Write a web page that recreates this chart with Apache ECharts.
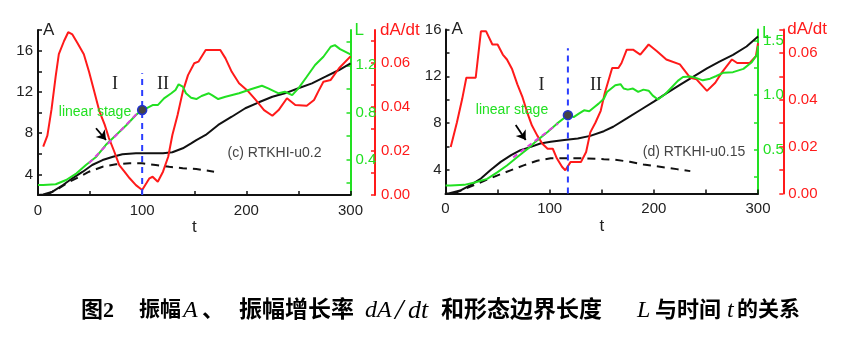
<!DOCTYPE html>
<html><head><meta charset="utf-8">
<script src="https://cdn.jsdelivr.net/npm/echarts@6/dist/echarts.min.js"></script>
<style>html,body{margin:0;padding:0;background:#fff}#c{width:842px;height:338px}</style>
</head><body><div id="c"></div>
<script>
// ---------- data: panel (c) RTKHI-u0.2 ----------
const c_A_t = [0,5,14,24,33,43,52,62,72,81,94,107,120,129,139,147,152,161,173,186,199,212,225,237,250,263,276,289,300];
const c_A_v = [2.0,2.05,2.32,2.97,3.62,4.26,4.91,5.39,5.71,5.95,6.04,6.04,6.04,6.14,6.53,7.01,7.33,7.82,8.79,9.59,10.41,10.99,11.53,11.86,12.35,12.83,13.47,14.12,14.77];
const c_Alin_t = [8,11,20,30,40,49,62,75,88,100,113,126,139,152,169];
const c_Alin_v = [2.0,2.16,2.65,3.29,3.77,4.26,4.74,4.98,5.07,5.07,4.91,4.74,4.59,4.52,4.26];
const c_dA_t = [5,9,13,17,20,25,29,33,38,44,49,54,59,64,68,73,78,83,88,94,100,104,107,110,115,120,125,129,134,139,144,150,154,161,175,180,186,193,202,209,217,225,231,239,247,258,265,269,274,281,289,300];
const c_dA_v = [0.022,0.027,0.039,0.054,0.064,0.070,0.074,0.073,0.069,0.064,0.056,0.047,0.038,0.032,0.026,0.020,0.0136,0.0106,0.0076,0.0045,0.0023,0.0053,0.0076,0.0083,0.0060,0.0106,0.0174,0.0273,0.0364,0.0470,0.0545,0.0599,0.0606,0.0659,0.0659,0.0621,0.0560,0.0508,0.0470,0.0432,0.0386,0.0360,0.0386,0.0440,0.0409,0.0406,0.0432,0.0470,0.0515,0.0523,0.0576,0.0630];
const c_L_t = [0,5,17,27,37,46,56,65,75,85,94,100,105,110,115,121,128,132,135,139,142,147,152,157,164,167,173,180,193,205,215,221,231,237,244,250,258,266,274,281,285,290,300];
const c_L_v = [0.185,0.185,0.191,0.227,0.284,0.354,0.425,0.524,0.609,0.694,0.779,0.821,0.840,0.863,0.863,0.920,0.963,0.991,1.039,1.019,0.963,0.925,0.914,0.940,0.963,0.948,0.914,0.934,0.963,0.999,1.027,1.005,0.963,0.976,0.948,1.005,1.103,1.203,1.273,1.358,1.372,1.338,1.293];
const c_fit_t = [49,95];
const c_fit_v = [0.37,0.79];
const c_split_t = 100;
const c_split_A = [2,13.8];
const c_point = [100,10.25];
const c_arrow = [[55.7,8.47],[65.3,7.33]];

// ---------- data: panel (d) RTKHI-u0.15 ----------
const d_A_t = [0,3,15,24,34,43,53,63,72,82,91,101,114,127,139,152,161,174,187,200,212,225,238,251,263,276,289,300];
const d_A_v = [2.0,2.0,2.28,2.71,3.28,3.99,4.70,5.27,5.70,5.98,6.27,6.41,6.56,6.70,6.92,7.32,7.70,8.41,9.13,9.84,10.55,11.27,11.98,12.69,13.26,13.84,14.55,15.4];
const d_Alin_t = [8,20,35,50,63,75,88,101,117,133,152,161,177,190,206,222,235];
const d_Alin_v = [2.0,2.45,3.0,3.55,4.0,4.4,4.8,5.0,5.0,5.0,4.93,4.9,4.71,4.48,4.28,4.08,3.91];
const d_dA_t = [5,11,16,20,29,34,39,45,50,55,59,64,69,74,79,83,88,93,98,103,107,112,115,120,130,135,139,144,149,153,160,166,169,174,180,187,195,203,212,225,235,241,251,259,265,275,280,292,298,300];
const d_dA_v = [0.0198,0.0304,0.0403,0.0494,0.0494,0.0692,0.0692,0.0636,0.0636,0.0593,0.0572,0.0530,0.0466,0.0410,0.0339,0.0290,0.0248,0.0212,0.0191,0.0191,0.0149,0.0113,0.0099,0.0134,0.0134,0.0177,0.0261,0.0303,0.0353,0.0430,0.0536,0.0536,0.0557,0.0614,0.0614,0.0593,0.0636,0.0607,0.0572,0.0551,0.0494,0.0487,0.0438,0.0473,0.0515,0.0572,0.0557,0.0557,0.0586,0.0642];
const d_L_t = [0,5,18,29,40,50,59,69,79,88,98,107,118,123,128,133,138,143,147,152,155,163,168,171,175,180,185,190,195,199,204,211,217,223,228,235,241,247,254,260,267,276,286,294,299,300];
const d_L_v = [0.173,0.173,0.179,0.203,0.234,0.295,0.356,0.433,0.510,0.586,0.662,0.739,0.821,0.799,0.830,0.861,0.852,0.891,0.922,0.967,1.028,1.090,1.100,1.060,1.050,1.060,1.030,1.050,1.040,0.995,0.960,1.010,1.070,1.130,1.165,1.170,1.155,1.135,1.150,1.175,1.205,1.210,1.240,1.300,1.370,1.450];
const d_fit_t = [65,108];
const d_fit_v = [0.43,0.74];
const d_split_t = 117.5;
const d_split_A = [2,14.4];
const d_point = [117.5,8.69];
const d_arrow = [[67.4,7.84],[77,6.56]];

// ---------- tick labels ----------
const xLabels = [0,100,200,300];
const xTicks = [0,50,100,150,200,250,300];
const c_A_labels = [4,8,12,16];
const c_A_ticks = [2,4,6,8,10,12,14,16,18];
const c_L_labels = [0.4,0.8,1.2];
const c_L_ticks = [0.2,0.4,0.6,0.8,1.0,1.2,1.4];
const c_R_labels = [0,0.02,0.04,0.06];
const c_R_ticks = [0,0.01,0.02,0.03,0.04,0.05,0.06,0.07];
const d_A_labels = [4,8,12,16];
const d_A_ticks = [2,4,6,8,10,12,14,16];
const d_L_labels = [0.5,1.0,1.5];
const d_L_ticks = [0.25,0.5,0.75,1.0,1.25,1.5];
const d_R_labels = [0,0.02,0.04,0.06];
const d_R_ticks = [0,0.01,0.02,0.03,0.04,0.05,0.06,0.07];

const zip = (a,b) => a.map((v,i) => [v,b[i]]);
const SANS = '"Liberation Sans", Arial, sans-serif';
const SERIF = '"Liberation Serif", "Times New Roman", serif';
const BLACK = '#111', RED = '#ff1a1a', GREEN = '#22e022', BLUE = '#2a3cff', MAG = '#e040e0';

function xAx(g){
  return {type:'value', gridIndex:g, min:0, max:300, name:'t', nameLocation:'middle', nameGap:23,
    nameTextStyle:{fontSize:17, color:'#222', fontFamily:SANS},
    axisLine:{onZero:false, lineStyle:{color:BLACK, width:2}},
    axisTick:{inside:true, length:4, customValues:xTicks, lineStyle:{color:BLACK, width:1.5}},
    axisLabel:{customValues:xLabels, margin:8, fontSize:15, color:'#222', fontFamily:SANS},
    splitLine:{show:false}};
}
function yAx(g, pos, offset, min, max, color, labels, ticks, fmt, name, margin, padL, gap){
  return {type:'value', gridIndex:g, position:pos, offset, min, max, name, nameLocation:'end', nameGap:gap||0,
    nameMoveOverlap:false,
    nameTextStyle:{color: color === BLACK ? '#222' : color, fontSize:17, fontFamily:SANS, align:'left', verticalAlign:'middle', padding:[0,0,0,padL]},
    axisLine:{show:true, onZero:false, lineStyle:{color, width:2}},
    axisTick:{show:true, inside:true, length:4, customValues:ticks, lineStyle:{color, width:1.5}},
    axisLabel:{customValues:labels, formatter:fmt, color: color === BLACK ? '#222' : color, fontSize:15, fontFamily:SANS, margin},
    splitLine:{show:false}};
}
function line(xi, yi, data, color, width, type, z){
  return {type:'line', xAxisIndex:xi, yAxisIndex:yi, data, symbol:'none', showSymbol:false, silent:true,
    lineStyle:{color, width, type}, itemStyle:{color}, z};
}
function arrowOn(series, ar){
  series.markLine = {silent:true, symbol:['none','arrow'], symbolSize:9, label:{show:false},
    lineStyle:{color:'#000', width:1.8, type:'solid'}, data:[[{coord:ar[0]},{coord:ar[1]}]]};
  return series;
}
function pointS(xi, yi, p){
  return {type:'scatter', xAxisIndex:xi, yAxisIndex:yi, data:[p], symbolSize:9, silent:true,
    itemStyle:{color:'#444', borderColor:'#2233cc', borderWidth:1.5, opacity:1}, z:10};
}
const f0 = v => String(v), f1 = v => v.toFixed(1), f2 = v => v.toFixed(2);

const series = [
  line(0,0, zip(c_Alin_t,c_Alin_v), BLACK, 2, [8,6], 2),
  arrowOn(line(0,0, zip(c_A_t,c_A_v), BLACK, 2, 'solid', 3), c_arrow),
  line(0,2, zip(c_dA_t,c_dA_v), RED, 2, 'solid', 4),
  line(0,1, zip(c_L_t,c_L_v), GREEN, 2, 'solid', 5),
  line(0,1, zip(c_fit_t,c_fit_v), MAG, 2, [5,4], 6),
  line(0,0, c_split_A.map(a => [c_split_t,a]), BLUE, 2, [6,5], 7),
  pointS(0,0, c_point),
  line(1,3, zip(d_Alin_t,d_Alin_v), BLACK, 2, [8,6], 2),
  arrowOn(line(1,3, zip(d_A_t,d_A_v), BLACK, 2, 'solid', 3), d_arrow),
  line(1,5, zip(d_dA_t,d_dA_v), RED, 2, 'solid', 4),
  line(1,4, zip(d_L_t,d_L_v), GREEN, 2, 'solid', 5),
  line(1,4, zip(d_fit_t,d_fit_v), MAG, 2, [5,4], 6),
  line(1,3, d_split_A.map(a => [d_split_t,a]), BLUE, 2, [6,5], 7),
  pointS(1,3, d_point)
];

function txt(text, x, y, o){
  return Object.assign({type:'text', x, y, silent:true, z:20,
    style:Object.assign({text, fill:'#222', fontSize:15, fontFamily:SANS, align:'center', verticalAlign:'middle'}, o||{})});
}
const CJK = '"Liberation Serif", "Noto Sans CJK SC", serif';
function cap(text, x, it, size){
  return txt(text, x, 311, it ? {align:'left', fontFamily:SERIF, fontStyle:'italic', fontSize:size||24, fill:'#000'}
                              : {align:'left', fontFamily:CJK, fontWeight:'bold', fontSize:size||23, fill:'#000'});
}
const graphic = [
  txt('I', 115, 84, {fontFamily:SERIF, fontSize:18}),
  txt('II', 163, 84, {fontFamily:SERIF, fontSize:18}),
  txt('linear stage', 95, 112, {fill:GREEN, fontSize:14}),
  txt('(c) RTKHI-u0.2', 274.5, 153, {fill:'#444', fontSize:14}),
  txt('I', 541.5, 85, {fontFamily:SERIF, fontSize:18}),
  txt('II', 596, 85, {fontFamily:SERIF, fontSize:18}),
  txt('linear stage', 512, 110.5, {fill:GREEN, fontSize:14}),
  txt('(d) RTKHI-u0.15', 694, 151.7, {fill:'#444', fontSize:14}),
  cap('图2', 81, false, 22), cap('振幅', 139, false, 21), cap('A', 183, true), cap('、', 202, false, 22),
  cap('振幅增长率', 239), cap('dA', 365, true), cap('/', 395, true, 30),
  cap('dt', 408, true, 26), cap('和形态边界长度', 441),
  cap('L', 637, true), cap('与时间', 655, false, 22), cap('t', 727, true), cap('的关系', 737, false, 21)
];

const option = {
  animation:false,
  backgroundColor:'#fff',
  grid:[{left:38, top:30, width:312.5, height:165},{left:445.5, top:29.5, width:312.5, height:164}],
  xAxis:[xAx(0), xAx(1)],
  yAxis:[
    yAx(0,'left',0, 2,18, BLACK, c_A_labels, c_A_ticks, f0, 'A', 5, 5),
    yAx(0,'right',0, 0.1,1.5, GREEN, c_L_labels, c_L_ticks, f1, 'L', 5, 4),
    yAx(0,'right',24.5, 0,0.075, RED, c_R_labels, c_R_ticks, f2, 'dA/dt', 6, 5),
    yAx(1,'left',0, 2,16, BLACK, d_A_labels, d_A_ticks, f0, 'A', 4, 6),
    yAx(1,'right',0, 0.1,1.6, GREEN, d_L_labels, d_L_ticks, f1, 'L', 5, 4, -4),
    yAx(1,'right',25.3, 0,0.07, RED, d_R_labels, d_R_ticks, f2, 'dA/dt', 5, 4)
  ],
  series,
  graphic
};
const chart = echarts.init(document.getElementById('c'), null, {renderer:'canvas'});
chart.setOption(option);
</script></body></html>
